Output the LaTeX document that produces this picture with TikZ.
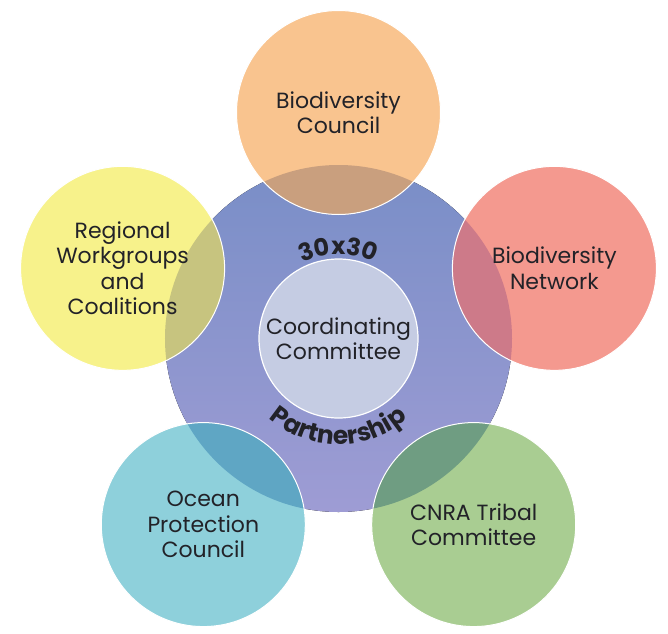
\documentclass[tikz,border=0pt]{standalone}
\usepackage{fontspec}
\setmainfont{Poppins}
\usetikzlibrary{positioning}
\usetikzlibrary{backgrounds}
\usetikzlibrary{decorations.text}

\definecolor{txtdark}{RGB}{34,34,40}
\definecolor{ringtop}{RGB}{121,142,199}
\definecolor{ringbot}{RGB}{158,156,212}
\definecolor{corefill}{RGB}{197,204,227}
\definecolor{orangefill}{RGB}{249,196,143}
\definecolor{redfill}{RGB}{244,153,143}
\definecolor{yellowfill}{RGB}{247,242,139}
\definecolor{tealfill}{RGB}{142,208,219}
\definecolor{greenfill}{RGB}{169,205,146}
\definecolor{orangeov}{RGB}{201,159,126}
\definecolor{redov}{RGB}{205,122,137}
\definecolor{yellowov}{RGB}{199,196,127}
\definecolor{tealov}{RGB}{95,166,196}
\definecolor{greenov}{RGB}{111,157,130}

\begin{document}
\begin{tikzpicture}[x=1pt,y=1pt,
	member node/.style={circle,minimum size=204pt,inner sep=0pt,align=center,text=txtdark,font=\fontsize{22}{25.5}\selectfont},
	core node/.style={circle,draw=white,line width=1.2pt,fill=corefill,minimum size=159pt,inner sep=0pt,align=center,text=txtdark,font=\fontsize{22}{25.5}\selectfont}]

	\useasboundingbox (-338.5,-294.5) rectangle (329.5,338.5);

	\node[core node] (core) at (0,0) {Coordinating\\Committee};
	\node[member node] (bcouncil) at (90:226) {Biodiversity\\Council};
	\node[member node] (bnetwork) at (18:227) {Biodiversity\\Network};
	\node[member node] (regional) at (162:227) {Regional\\Workgroups\\and\\Coalitions};
	\node[member node] (ocean) at (234:230) {Ocean\\Protection\\Council};
	\node[member node] (tribal) at (306:230) {CNRA Tribal\\Committee};

	% curved titles on the ring
	\path[decorate,decoration={text along path,text align=center,
		text={|\color{txtdark}\bfseries\fontsize{24}{24}\selectfont|30x30}}]
		(135:84) arc (135:45:84);
	\path[decorate,decoration={text along path,text align=center,
		text={|\color{txtdark}\bfseries\fontsize{25}{25}\selectfont|Partnership}}]
		(195:106) arc (195:345:106);

	\begin{scope}[on background layer]
		\fill[top color=ringtop,bottom color=ringbot] (core) circle (173.5);
		\foreach \n/\c/\o in {bcouncil/orangefill/orangeov,bnetwork/redfill/redov,
				regional/yellowfill/yellowov,ocean/tealfill/tealov,tribal/greenfill/greenov}
		{
			\fill[\c] (\n) circle (102);
			\begin{scope}
				\clip (\n) circle (102);
				\fill[\o] (core) circle (173.5);
			\end{scope}
			\draw[white,line width=1pt] (\n) circle (102);
		}
	\end{scope}
\end{tikzpicture}
\end{document}
